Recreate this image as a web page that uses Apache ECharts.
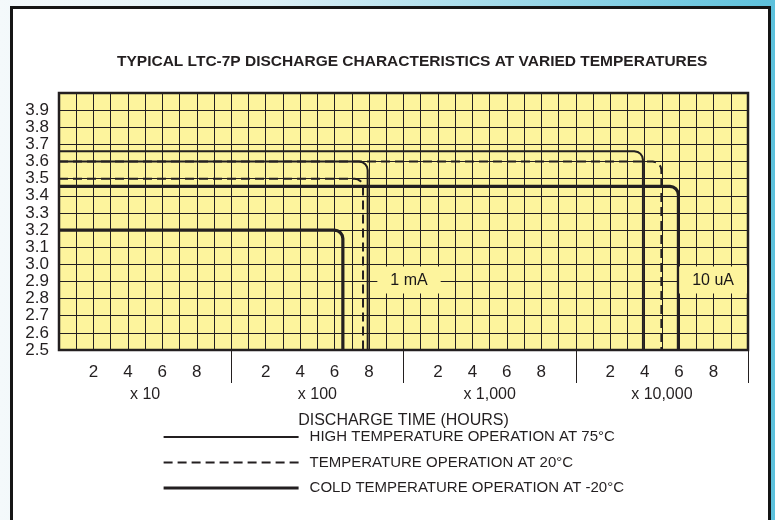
<!DOCTYPE html>
<html><head><meta charset="utf-8">
<script src="https://cdn.jsdelivr.net/npm/echarts@6/dist/echarts.min.js"></script>
<style>
html,body{margin:0;padding:0;}
body{width:775px;height:520px;overflow:hidden;position:relative;background:linear-gradient(to right,#f4f9fb 0%,#dcf0f6 35%,#5dc1dc 100%);}
#frame{position:absolute;left:10px;top:6px;width:755px;height:520px;border:3px solid #151515;border-bottom:none;background:#fff;}
#chart{position:absolute;left:0;top:0;width:775px;height:520px;}
</style></head>
<body><div id="frame"></div><div id="chart"></div>
<script>
// ---- data ----
const titleText = 'TYPICAL LTC-7P DISCHARGE CHARACTERISTICS AT VARIED TEMPERATURES';
const seriesNames = ['HIGH TEMPERATURE OPERATION AT 75°C', 'TEMPERATURE OPERATION AT 20°C', 'COLD TEMPERATURE OPERATION AT -20°C'];
// plateau voltage and end of life (x position in decade units: 0-10 = x10, 10-20 = x100, ...)
const plateau1mA = [3.60, 3.50, 3.20];
const end1mA = [17.92, 17.65, 16.48];
const plateau10uA = [3.66, 3.60, 3.455];
const end10uA = [33.9, 34.97, 35.96];
const minorTickLabels = [2, 4, 6, 8];
const decadeLabels = ['x 10', 'x 100', 'x 1,000', 'x 10,000'];
const decadeCenters = [5, 15, 25, 35];
const decadeBounds = [10, 20, 30, 40];
const currentLabels = ['1 mA', '10 uA'];
const currentLabelX = [20.35, 38.0];
const currentLabelY = [2.905, 2.905];
const yMin = 2.5, yMax = 4.0, xMax = 40;

// ---- styles ----
const ink = '#231f20';
const font = "'Liberation Sans Narrow', 'Liberation Sans', Arial, sans-serif";
const styles = [
  { width: 2, type: 'solid' },
  { width: 2, type: [9, 5] },
  { width: 3.2, type: 'solid' }
];

function stepCurve(v, end) {
  const rx = 0.5, ry = 0.05;
  const pts = [[0, v], [end - rx, v]];
  for (let i = 1; i <= 8; i++) {
    const a = i / 8 * Math.PI / 2;
    pts.push([end - rx + rx * Math.sin(a), v - ry + ry * Math.cos(a)]);
  }
  pts.push([end, yMin]);
  return pts;
}

const series = [];
seriesNames.forEach((name, i) => {
  [[plateau10uA, end10uA], [plateau1mA, end1mA]].forEach(([pl, en]) => {
    series.push({
      name: name, type: 'line', showSymbol: false, symbol: 'none', silent: true,
      data: stepCurve(pl[i], en[i]),
      lineStyle: { color: ink, width: styles[i].width, type: styles[i].type, cap: 'butt', join: 'round' },
      itemStyle: { color: ink },
      z: 3
    });
  });
});
series.push({
  type: 'scatter', symbolSize: 1, silent: true, z: 5,
  itemStyle: { color: ink, opacity: 1 },
  data: currentLabels.map((t, i) => ({ name: t, value: [currentLabelX[i], currentLabelY[i]] })),
  label: {
    show: true, position: [0, 0], align: 'center', verticalAlign: 'middle',
    formatter: p => p.name, opacity: 1,
    fontFamily: font, fontSize: 16, color: '#1a1718',
    textBorderWidth: 0, textShadowBlur: 0,
    backgroundColor: '#fdf49d', padding: [6, 13, 5, 13]
  }
});

const chart = echarts.init(document.getElementById('chart'), null, { renderer: 'canvas' });
chart.setOption({
  animation: false,
  backgroundColor: 'transparent',
  title: {
    text: titleText, left: 112, top: 49,
    textStyle: { fontFamily: font, fontWeight: 'bold', fontSize: 15.5, color: ink }
  },
  legend: {
    orient: 'vertical', left: 157, top: 424,
    data: seriesNames.map((n, i) => ({ name: n, lineStyle: { width: styles[i].width, type: styles[i].type, color: ink } })),
    itemWidth: 135, itemHeight: 14, itemGap: 9.5,
    itemStyle: { opacity: 0, color: 'transparent', borderWidth: 0 },
    textStyle: { fontFamily: font, fontSize: 15, color: ink, lineHeight: 16, padding: [0, 0, 0, 6] },
    selectedMode: false
  },
  grid: {
    left: 59, right: 27, top: 93, bottom: 170,
    show: true, backgroundColor: '#fdf49d', borderColor: ink, borderWidth: 2.5
  },
  xAxis: [{
    type: 'value', min: 0, max: xMax, interval: 1,
    name: 'DISCHARGE TIME (HOURS)', nameLocation: 'middle', nameGap: 63,
    nameTextStyle: { fontFamily: font, fontSize: 16, color: ink },
    axisLine: { show: false },
    axisTick: { show: false },
    splitLine: { show: true, lineStyle: { color: ink, width: 1 } },
    axisLabel: {
      margin: 14, fontFamily: font, fontSize: 17, color: ink,
      formatter: v => { const m = Math.round(v) % 10; return minorTickLabels.includes(m) ? String(m) : ''; }
    }
  }, {
    type: 'value', min: 0, max: xMax, position: 'bottom',
    axisLine: { show: false },
    splitLine: { show: false },
    axisTick: { show: true, customValues: decadeBounds, length: 33, lineStyle: { color: ink, width: 1 } },
    axisLabel: {
      customValues: decadeCenters, margin: 37, fontFamily: font, fontSize: 16, color: ink,
      formatter: v => decadeLabels[decadeCenters.indexOf(Math.round(v))] || ''
    }
  }],
  yAxis: {
    type: 'value', min: yMin, max: yMax, interval: 0.1,
    axisLine: { show: false },
    axisTick: { show: false },
    splitLine: { show: true, lineStyle: { color: ink, width: 1 } },
    axisLabel: {
      margin: 10, fontFamily: font, fontSize: 17, color: ink, lineHeight: 15,
      formatter: v => v > 3.95 ? '' : v.toFixed(1)
    }
  },
  series: series
});
</script></body></html>
